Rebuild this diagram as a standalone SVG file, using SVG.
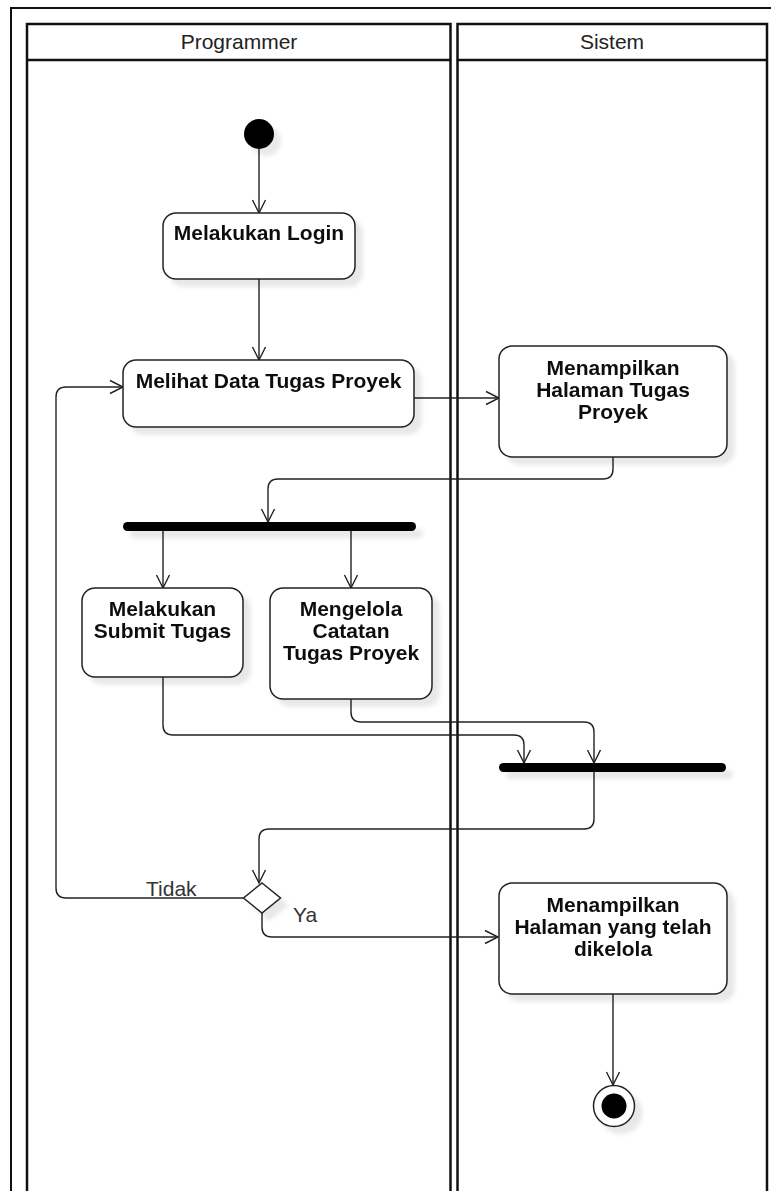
<svg xmlns="http://www.w3.org/2000/svg" width="771" height="1198" viewBox="0 0 771 1198">
<defs>
<style>
.lane{fill:none;stroke:#111;stroke-width:2.5}
.frame{fill:none;stroke:#111;stroke-width:2}
.hdr{font-family:"Liberation Sans",Arial,sans-serif;font-size:21px;fill:#222;text-anchor:middle}
.box{fill:#fff;stroke:#222;stroke-width:1.5}
.lbl{font-family:"Liberation Sans",Arial,sans-serif;font-size:21px;font-weight:bold;fill:#111;text-anchor:middle}
.edge{fill:none;stroke:#222;stroke-width:1.4;marker-end:url(#arr)}
.elbl{font-family:"Liberation Sans",Arial,sans-serif;font-size:21px;fill:#333}
.bar{fill:#000}
</style>
<marker id="arr" markerUnits="userSpaceOnUse" markerWidth="16" markerHeight="16" refX="14" refY="8" orient="auto">
<path d="M1,1.5 L14,8 L1,14.5" fill="none" stroke="#222" stroke-width="1.4"/>
</marker>
<filter id="sh" x="-20%" y="-20%" width="150%" height="160%">
<feDropShadow dx="7" dy="7" stdDeviation="2" flood-color="#000" flood-opacity="0.09"/>
</filter>
<filter id="shb" x="-10%" y="-100%" width="130%" height="400%">
<feDropShadow dx="7" dy="7" stdDeviation="2" flood-color="#000" flood-opacity="0.09"/>
</filter>
</defs>
<rect width="771" height="1198" fill="#fff"/>

<g id="frame">
<path class="frame" d="M11,1191 V8 H771"/>
</g>

<g id="lane-programmer">
<path class="lane" d="M27,1191 V24 H450.5 V1191"/>
<line class="lane" x1="27" y1="60" x2="450.5" y2="60"/>
<text class="hdr" x="239" y="49">Programmer</text>
</g>

<g id="lane-sistem">
<path class="lane" d="M457.5,1191 V24 H767 V1191"/>
<line class="lane" x1="457.5" y1="60" x2="767" y2="60"/>
<text class="hdr" x="612" y="49">Sistem</text>
</g>

<g id="connectors">
<path class="edge" d="M259,149 V213"/>
<path class="edge" d="M259,279 V360"/>
<path class="edge" d="M414,398 H499"/>
<path class="edge" d="M613,457 V469 Q613,479 603,479 H278 Q268,479 268,489 V522"/>
<path class="edge" d="M163,531 V588"/>
<path class="edge" d="M351,531 V588"/>
<path class="edge" d="M163,677 V725 Q163,735 173,735 H514 Q524,735 524,745 V763"/>
<path class="edge" d="M351,699 V712 Q351,722 361,722 H584 Q594,722 594,732 V763"/>
<path class="edge" d="M594,772 V819 Q594,829 584,829 H269 Q259,829 259,839 V883"/>
<path class="edge" d="M243,898 H66 Q56,898 56,888 V397 Q56,387 66,387 H123"/>
<path class="edge" d="M262,913 V927 Q262,937 272,937 H498"/>
<path class="edge" d="M613,994 V1085"/>
<text class="elbl" x="146" y="896">Tidak</text>
<text class="elbl" x="293" y="922">Ya</text>
</g>

<g id="start" filter="url(#sh)">
<circle cx="259" cy="134" r="15" fill="#000"/>
</g>

<g id="login" filter="url(#sh)">
<rect class="box" x="163" y="213" width="192" height="66" rx="13"/>
<text class="lbl" x="259" y="240">Melakukan Login</text>
</g>

<g id="melihat" filter="url(#sh)">
<rect class="box" x="123" y="360" width="291" height="67" rx="13"/>
<text class="lbl" x="268.5" y="388">Melihat Data Tugas Proyek</text>
</g>

<g id="tampil-tugas" filter="url(#sh)">
<rect class="box" x="499" y="346" width="228" height="111" rx="13"/>
<text class="lbl" x="613" y="375">Menampilkan</text>
<text class="lbl" x="613" y="397">Halaman Tugas</text>
<text class="lbl" x="613" y="419">Proyek</text>
</g>

<g id="fork" filter="url(#shb)">
<rect class="bar" x="123" y="522" width="293" height="9" rx="4.5"/>
</g>

<g id="submit" filter="url(#sh)">
<rect class="box" x="82" y="588" width="161" height="89" rx="13"/>
<text class="lbl" x="162.5" y="616">Melakukan</text>
<text class="lbl" x="162.5" y="638">Submit Tugas</text>
</g>

<g id="kelola" filter="url(#sh)">
<rect class="box" x="270" y="588" width="162" height="111" rx="13"/>
<text class="lbl" x="351" y="616">Mengelola</text>
<text class="lbl" x="351" y="638">Catatan</text>
<text class="lbl" x="351" y="660">Tugas Proyek</text>
</g>

<g id="join" filter="url(#shb)">
<rect class="bar" x="499" y="763" width="227" height="9" rx="4.5"/>
</g>

<g id="decision" filter="url(#sh)">
<polygon class="box" points="262,883 280.5,898 262,913 243.5,898"/>
</g>

<g id="tampil-kelola" filter="url(#sh)">
<rect class="box" x="499" y="883" width="228" height="111" rx="13"/>
<text class="lbl" x="613" y="912">Menampilkan</text>
<text class="lbl" x="613" y="934">Halaman yang telah</text>
<text class="lbl" x="613" y="956">dikelola</text>
</g>

<g id="end" filter="url(#sh)">
<circle cx="614" cy="1106" r="20.5" fill="#fff" stroke="#222" stroke-width="1.5"/>
<circle cx="614" cy="1106" r="12.5" fill="#000"/>
</g>
</svg>
